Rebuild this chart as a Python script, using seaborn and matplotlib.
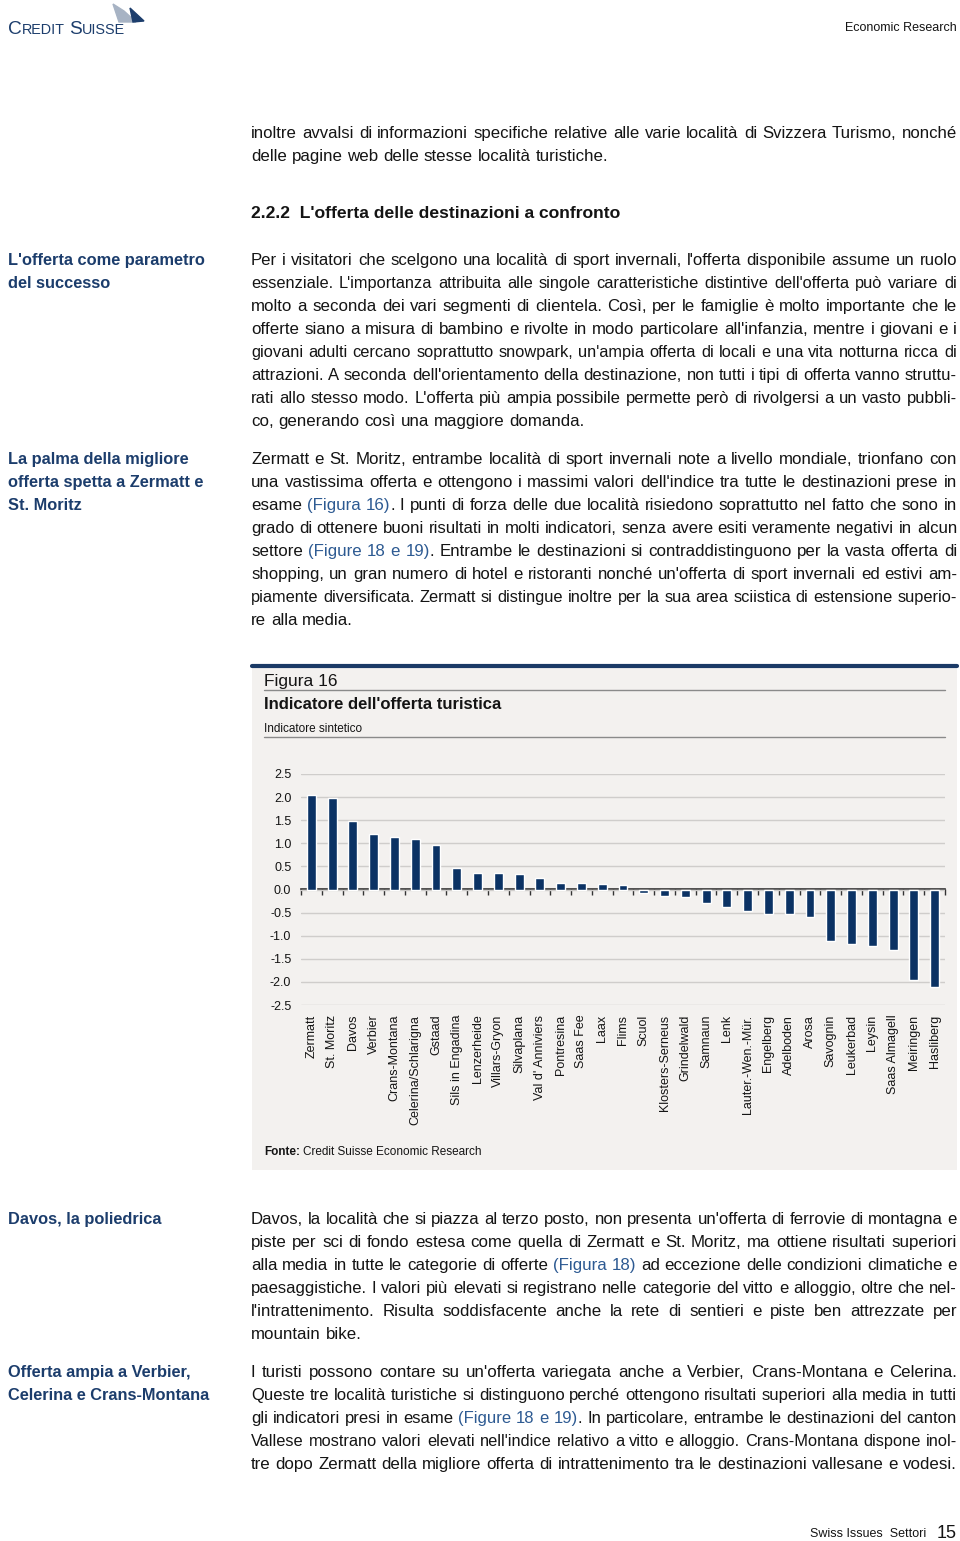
import numpy as np
import pandas as pd
import matplotlib
matplotlib.use("Agg")
import matplotlib.pyplot as plt
import seaborn as sns
from matplotlib.patches import Rectangle, Polygon
from matplotlib.lines import Line2D

W, H = 960, 1541

# Figure 16 data: synthetic tourist offer indicator per destination
destinations = ["Zermatt", "St. Moritz", "Davos", "Verbier", "Crans-Montana",
                "Celerina/Schlarigna", "Gstaad", "Sils in Engadina", "Lenzerheide",
                "Villars-Gryon", "Silvaplana", "Val d' Anniviers", "Pontresina",
                "Saas Fee", "Laax", "Flims", "Scuol", "Klosters-Serneus",
                "Grindelwald", "Samnaun", "Lenk", "Lauter.-Wen.-Mür.", "Engelberg",
                "Adelboden", "Arosa", "Savognin", "Leukerbad", "Leysin",
                "Saas Almagell", "Meiringen", "Hasliberg"]
index_values = [2.04, 1.99, 1.48, 1.20, 1.14, 1.10, 0.96, 0.47, 0.36, 0.35, 0.34,
                0.25, 0.15, 0.14, 0.12, 0.10, -0.07, -0.14, -0.17, -0.30, -0.38,
                -0.47, -0.54, -0.54, -0.59, -1.12, -1.17, -1.23, -1.32, -1.95, -2.11]
y_ticks = [2.5, 2.0, 1.5, 1.0, 0.5, 0.0, -0.5, -1.0, -1.5, -2.0, -2.5]

NAVY = "#0b3264"
HEAD_BLUE = "#1c3d6c"
LINK_BLUE = "#2d5a92"
TEXT = "#141414"
PANEL = "#f3f1ef"

sns.set_theme(style="white")
plt.rcParams["font.family"] = ["Liberation Sans", "DejaVu Sans"]

fig = plt.figure(figsize=(W / 100, H / 100), dpi=100)
fig.patch.set_facecolor("white")
renderer = fig.canvas.get_renderer()
_cache = {}


def fx(x):
    return x / W


def fy(y):
    return 1 - y / H


def text_width(s, size, weight="normal"):
    key = (s, round(size, 3), weight)
    if key not in _cache:
        t = fig.text(0, 0, s, fontsize=size, fontweight=weight)
        _cache[key] = t.get_window_extent(renderer).width
        t.remove()
    return _cache[key]


def adv_width(s, size, weight="normal"):
    # advance width (keeps side bearings), measured between two bars
    return text_width("|" + s + "|", size, weight) - text_width("||", size, weight)


def parse_line(line):
    # words as lists of (chunk, is_blue); {...} marks blue references
    words, cur, buf, blue = [], [], "", False
    for ch in line:
        if ch in "{}":
            if buf:
                cur.append((buf, blue))
                buf = ""
            blue = ch == "{"
        elif ch == " ":
            if buf:
                cur.append((buf, blue))
                buf = ""
            if cur:
                words.append(cur)
                cur = []
        else:
            buf += ch
    if buf:
        cur.append((buf, blue))
    if cur:
        words.append(cur)
    return words


def paragraph(lines, y0, x0=251, x1=957, size=12.2, step=23, justify_last=False):
    for k, line in enumerate(lines):
        words = parse_line(line)
        last = k == len(lines) - 1 and not justify_last
        fs = size
        while True:
            space = adv_width(" ", fs)
            widths = [adv_width("".join(c for c, _ in w), fs) for w in words]
            total = sum(widths)
            gap = space if last else (x1 - x0 - total) / (len(words) - 1)
            if gap >= space or last:
                break
            fs *= 0.99
        x = x0
        yb = y0 + k * step + 5
        for w, ww in zip(words, widths):
            prefix = ""
            for c, blue in w:
                off = adv_width(prefix, fs) if prefix else 0
                fig.text(fx(x + off), fy(yb), c, fontsize=fs, va="baseline", ha="left",
                         color=LINK_BLUE if blue else TEXT)
                prefix += c
            x += ww + gap


def side_heading(lines, y0, step=23):
    for k, line in enumerate(lines):
        fig.text(fx(8), fy(y0 + k * step + 5), line, fontsize=11.8, fontweight="bold",
                 color=HEAD_BLUE, va="baseline", ha="left")


# ---- header ----
x = 8
for part, fs in [("C", 13.8), ("REDIT", 10.4), (" ", 10.4), ("S", 13.8), ("UISSE", 10.4)]:
    fig.text(fx(x), fy(34), part, fontsize=fs, color=HEAD_BLUE, va="baseline", ha="left")
    x += adv_width(part, fs)
fig.add_artist(Polygon([(fx(113), fy(4)), (fx(124), fy(11)), (fx(136), fy(22)), (fx(119), fy(22))],
                       closed=True, color="#a7b3c4", transform=fig.transFigure))
fig.add_artist(Polygon([(fx(130), fy(8)), (fx(144), fy(21)), (fx(133), fy(22))],
                       closed=True, color=HEAD_BLUE, transform=fig.transFigure))
fig.text(fx(957), fy(28), "Economic Research", fontsize=9, color=TEXT, ha="right", va="center")

# ---- body text above chart ----
paragraph(["inoltre avvalsi di informazioni specifiche relative alle varie località di Svizzera Turismo, nonché",
           "delle pagine web delle stesse località turistiche."], 133)

fig.text(fx(251), fy(218), "2.2.2  L'offerta delle destinazioni a confronto", fontsize=12.6,
         fontweight="bold", color=TEXT, va="baseline", ha="left")

side_heading(["L'offerta come parametro", "del successo"], 260)
paragraph(["Per i visitatori che scelgono una località di sport invernali, l'offerta disponibile assume un ruolo",
           "essenziale. L'importanza attribuita alle singole caratteristiche distintive dell'offerta può variare di",
           "molto a seconda dei vari segmenti di clientela. Così, per le famiglie è molto importante che le",
           "offerte siano a misura di bambino e rivolte in modo particolare all'infanzia, mentre i giovani e i",
           "giovani adulti cercano soprattutto snowpark, un'ampia offerta di locali e una vita notturna ricca di",
           "attrazioni. A seconda dell'orientamento della destinazione, non tutti i tipi di offerta vanno struttu-",
           "rati allo stesso modo. L'offerta più ampia possibile permette però di rivolgersi a un vasto pubbli-",
           "co, generando così una maggiore domanda."], 260)

side_heading(["La palma della migliore", "offerta spetta a Zermatt e", "St. Moritz"], 459)
paragraph(["Zermatt e St. Moritz, entrambe località di sport invernali note a livello mondiale, trionfano con",
           "una vastissima offerta e ottengono i massimi valori dell'indice tra tutte le destinazioni prese in",
           "esame {(Figura 16)}. I punti di forza delle due località risiedono soprattutto nel fatto che sono in",
           "grado di ottenere buoni risultati in molti indicatori, senza avere esiti veramente negativi in alcun",
           "settore {(Figure 18 e 19)}. Entrambe le destinazioni si contraddistinguono per la vasta offerta di",
           "shopping, un gran numero di hotel e ristoranti nonché un'offerta di sport invernali ed estivi am-",
           "piamente diversificata. Zermatt si distingue inoltre per la sua area sciistica di estensione superio-",
           "re alla media."], 459)

# ---- chart panel ----
fig.add_artist(Rectangle((fx(252), fy(1170)), fx(957) - fx(252), fy(665) - fy(1170),
                         facecolor=PANEL, edgecolor="none", transform=fig.transFigure, zorder=-5))
fig.add_artist(Line2D([fx(252), fx(957)], [fy(666), fy(666)], color="#1b3a66", lw=3,
                      transform=fig.transFigure))
for yy in (690, 737):
    fig.add_artist(Line2D([fx(264), fx(945)], [fy(yy), fy(yy)], color="#8a8a8a", lw=1,
                          transform=fig.transFigure))
fig.text(fx(264), fy(686), "Figura 16", fontsize=12.5, color=TEXT, va="baseline")
fig.text(fx(264), fy(709), "Indicatore dell'offerta turistica", fontsize=12, fontweight="bold",
         color=TEXT, va="baseline")
fig.text(fx(264), fy(732), "Indicatore sintetico", fontsize=8.5, color=TEXT, va="baseline")

df = pd.DataFrame({"destination": destinations, "value": index_values})
ax = fig.add_axes([fx(301), fy(1005), fx(945) - fx(301), fy(774) - fy(1005)])
ax.set_facecolor("none")
sns.barplot(data=df, x="destination", y="value", color=NAVY, saturation=1, width=0.43, ax=ax)
ax.set_xlim(-0.5, len(destinations) - 0.5)
ax.set_ylim(-2.5, 2.5)
ax.set_yticks(y_ticks)
ax.set_yticklabels([f"{t:.1f}" for t in y_ticks])
ax.set_xlabel("")
ax.set_ylabel("")
ax.yaxis.grid(True, color="#cfcdcb", lw=1)
ax.set_axisbelow(True)
sns.despine(ax=ax, left=True, bottom=True)
ax.tick_params(axis="y", length=0, pad=7, labelsize=9, labelcolor=TEXT)
ax.tick_params(axis="x", length=0, pad=7, labelsize=9, labelcolor=TEXT, rotation=90)

# zero line with category separators
sec = ax.secondary_xaxis(0.5)
sec.set_xticks(np.arange(len(destinations) + 1) - 0.5)
sec.tick_params(axis="x", direction="in", length=4, width=1, color="#333333",
                labeltop=False, labelbottom=False)
for s in sec.spines.values():
    s.set_color("#333333")
    s.set_linewidth(1.2)

x = 264
fig.text(fx(x), fy(1155), "Fonte:", fontsize=8.5, fontweight="bold", color=TEXT, va="baseline")
x += adv_width("Fonte: ", 8.5, "bold")
fig.text(fx(x), fy(1155), "Credit Suisse Economic Research", fontsize=8.5, color=TEXT, va="baseline")

# ---- body text below chart ----
side_heading(["Davos, la poliedrica"], 1219)
paragraph(["Davos, la località che si piazza al terzo posto, non presenta un'offerta di ferrovie di montagna e",
           "piste per sci di fondo estesa come quella di Zermatt e St. Moritz, ma ottiene risultati superiori",
           "alla media in tutte le categorie di offerte {(Figura 18)} ad eccezione delle condizioni climatiche e",
           "paesaggistiche. I valori più elevati si registrano nelle categorie del vitto e alloggio, oltre che nel-",
           "l'intrattenimento. Risulta soddisfacente anche la rete di sentieri e piste ben attrezzate per",
           "mountain bike."], 1219)

side_heading(["Offerta ampia a Verbier,", "Celerina e Crans-Montana"], 1372)
paragraph(["I turisti possono contare su un'offerta variegata anche a Verbier, Crans-Montana e Celerina.",
           "Queste tre località turistiche si distinguono perché ottengono risultati superiori alla media in tutti",
           "gli indicatori presi in esame {(Figure 18 e 19)}. In particolare, entrambe le destinazioni del canton",
           "Vallese mostrano valori elevati nell'indice relativo a vitto e alloggio. Crans-Montana dispone inol-",
           "tre dopo Zermatt della migliore offerta di intrattenimento tra le destinazioni vallesane e vodesi."],
          1372, justify_last=True)

# ---- footer ----
fig.text(fx(926), fy(1537), "Swiss Issues  Settori", fontsize=9, color=TEXT, ha="right", va="baseline")
fig.text(fx(957), fy(1538), "15", fontsize=13, color=TEXT, ha="right", va="baseline")

fig.savefig("out.png", dpi=100, facecolor="white")
